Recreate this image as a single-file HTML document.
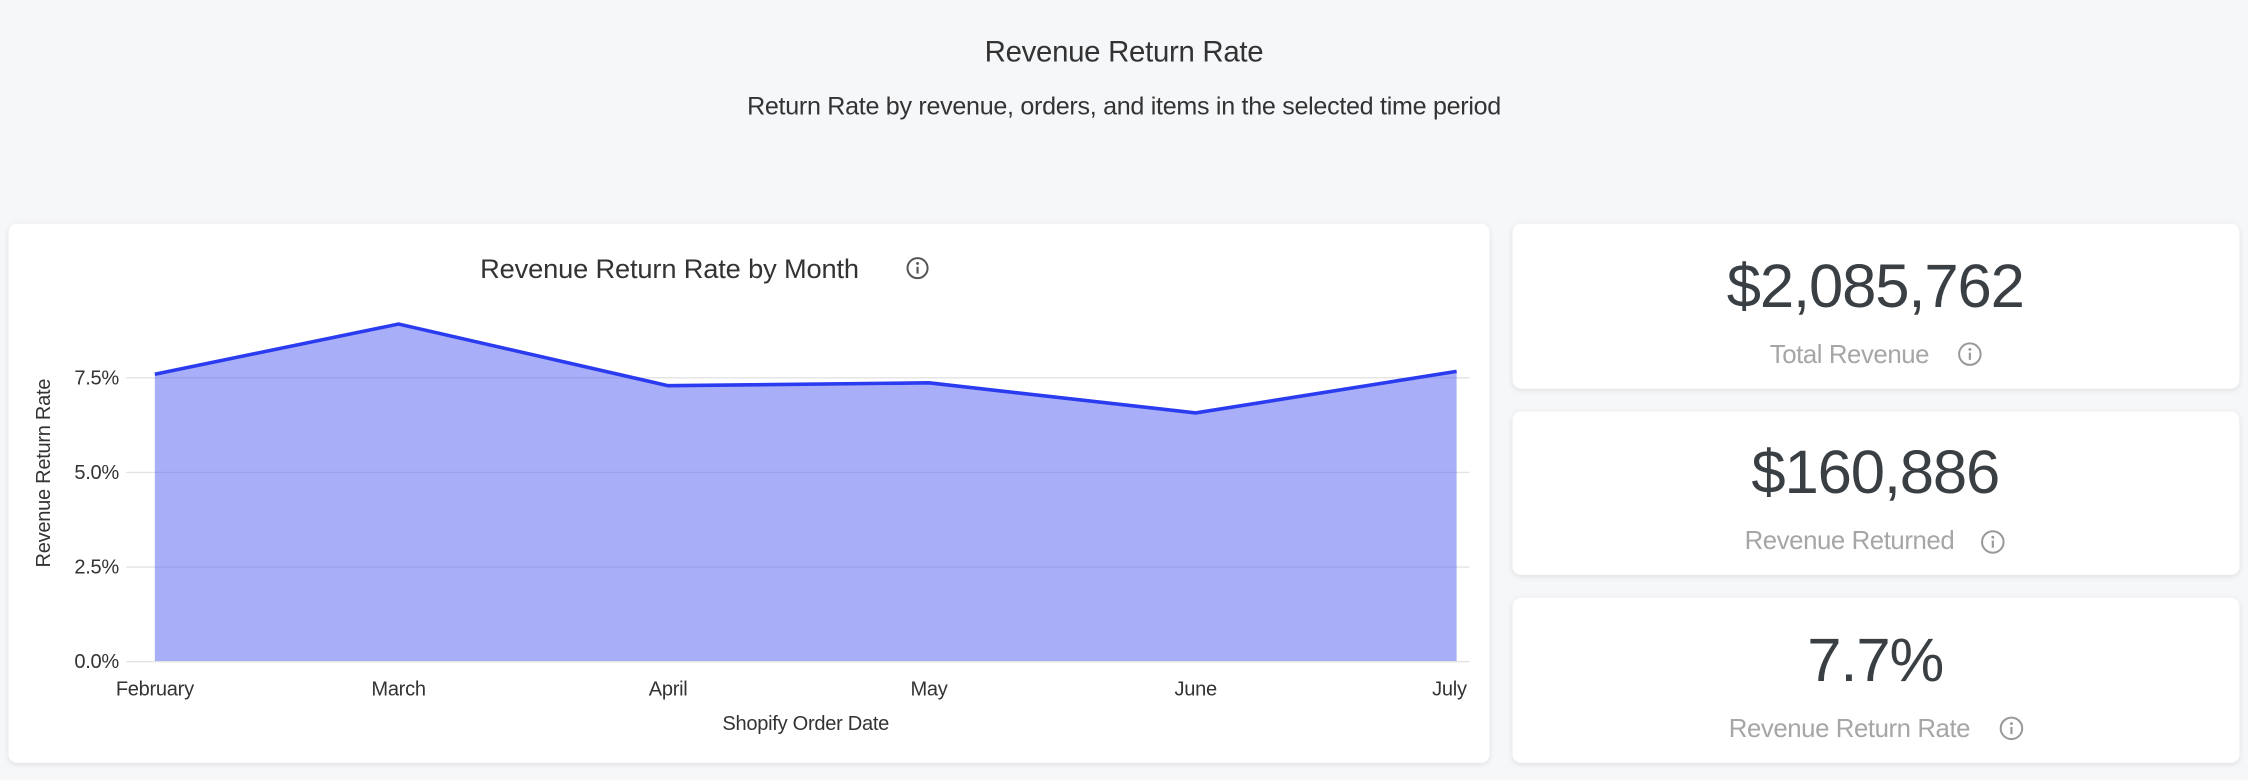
<!DOCTYPE html>
<html><head><meta charset="utf-8"><style>
html,body{margin:0;padding:0;background:#f6f7f9;}
svg{display:block;}
text{font-family:"Liberation Sans",sans-serif;}
</style></head><body>
<svg width="2248" height="780" viewBox="0 0 1568 544" xmlns="http://www.w3.org/2000/svg">
<defs><filter id="sh" x="-5%" y="-5%" width="110%" height="115%"><feDropShadow dx="0" dy="1" stdDeviation="2" flood-color="#000" flood-opacity="0.10"/></filter>
<g id="info"><circle r="7" fill="none" stroke="#555" stroke-width="1.4"/><circle cy="-3.3" r="1" fill="#555"/><line y1="-1" y2="3.8" stroke="#555" stroke-width="1.5"/></g>
<g id="infol"><circle r="7.5" fill="none" stroke="#999" stroke-width="1.4"/><circle cy="-3.3" r="1" fill="#999"/><line y1="-1" y2="4" stroke="#999" stroke-width="1.5"/></g>
</defs>
<rect width="1568" height="544" fill="#f6f7f9"/>
<text x="784" y="43" text-anchor="middle" font-size="20.5" fill="#333" letter-spacing="-0.2">Revenue Return Rate</text>
<text x="784" y="80" text-anchor="middle" font-size="17.5" fill="#333" letter-spacing="-0.2">Return Rate by revenue, orders, and items in the selected time period</text>
<rect x="6" y="156" width="1033" height="376" rx="6" fill="#fff" filter="url(#sh)"/>
<rect x="1055" y="156" width="507" height="115" rx="6" fill="#fff" filter="url(#sh)"/>
<rect x="1055" y="287" width="507" height="114" rx="6" fill="#fff" filter="url(#sh)"/>
<rect x="1055" y="417" width="507" height="115" rx="6" fill="#fff" filter="url(#sh)"/>
<text x="467" y="194" text-anchor="middle" font-size="19" fill="#333" letter-spacing="-0.1">Revenue Return Rate by Month</text>
<use href="#info" x="640" y="187"/>
<g stroke="#e3e3e3" stroke-width="1"><line x1="88" x2="1025" y1="263.5" y2="263.5"/><line x1="88" x2="1025" y1="329.5" y2="329.5"/><line x1="88" x2="1025" y1="395.5" y2="395.5"/><line x1="88" x2="1025" y1="461.5" y2="461.5"/></g>
<polygon points="108,261 278,226 466,269 648,267 834,288 1016,259 1016,461 108,461" fill="#5865f2" fill-opacity="0.52"/>
<polyline points="108,261 278,226 466,269 648,267 834,288 1016,259" fill="none" stroke="#2a3bf0" stroke-width="2.5"/>
<g font-size="14" fill="#333" text-anchor="end" letter-spacing="-0.2"><text x="83" y="268">7.5%</text><text x="83" y="334">5.0%</text><text x="83" y="400">2.5%</text><text x="83" y="466">0.0%</text></g>
<text transform="translate(35,330) rotate(-90)" text-anchor="middle" font-size="14" fill="#333" letter-spacing="-0.2">Revenue Return Rate</text>
<g font-size="14" fill="#333" text-anchor="middle" letter-spacing="-0.2"><text x="108" y="485">February</text><text x="278" y="485">March</text><text x="466" y="485">April</text><text x="648" y="485">May</text><text x="834" y="485">June</text><text x="1011" y="485">July</text></g>
<text x="562" y="509" text-anchor="middle" font-size="14" fill="#333" letter-spacing="-0.2">Shopify Order Date</text>
<g text-anchor="middle" fill="#3a3f44" font-size="43" letter-spacing="-0.8"><text x="1308" y="214">$2,085,762</text><text x="1308" y="344">$160,886</text><text x="1308" y="475">7.7%</text></g>
<g text-anchor="middle" fill="#a6a6a6" font-size="18" letter-spacing="-0.3"><text x="1290" y="253">Total Revenue</text><text x="1290" y="383">Revenue Returned</text><text x="1290" y="514">Revenue Return Rate</text></g>
<use href="#infol" x="1374" y="247"/><use href="#infol" x="1390" y="378"/><use href="#infol" x="1403" y="508"/>
</svg>
</body></html>
